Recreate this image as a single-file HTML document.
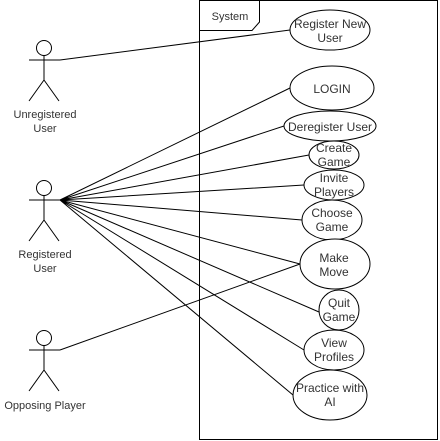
<!DOCTYPE html>
<html><head><meta charset="utf-8"><style>
html,body{margin:0;padding:0;background:#fff;}
svg{display:block;}
text{font-family:"Liberation Sans",sans-serif;font-size:11px;fill:#333;text-anchor:middle;}
.u{font-size:12px;}
</style></head><body>
<svg width="440" height="441" viewBox="0 0 440 441" xmlns="http://www.w3.org/2000/svg">
<g fill="none" stroke="#000" stroke-width="1">
<rect x="199.5" y="0.5" width="238" height="439"/>
<path d="M199.5 30.5 H252 L259.5 22 V0.5"/>
<g>
<circle cx="44" cy="48" r="7.5"/>
<path d="M44 55.5 V80 M29 60 H60 M44 80 L29 101 M44 80 L59 101"/>
</g>
<g transform="translate(0,140)">
<circle cx="44" cy="48" r="7.5"/>
<path d="M44 55.5 V80 M29 60 H60 M44 80 L29 101 M44 80 L59 101"/>
</g>
<g transform="translate(0,290)">
<circle cx="44" cy="48" r="7.5"/>
<path d="M44 55.5 V80 M29 60 H60 M44 80 L29 101 M44 80 L59 101"/>
</g>
<path d="M60 60 L290 30"/>
<path d="M60 200 L290 88 M60 200 L284 126 M60 200 L309 155 M60 200 L304 185 M60 200 L302 220 M60 200 L300 264 M60 200 L319 312 M60 200 L304 350 M60 200 L293 395"/>
<path d="M60 350 L300 264"/>
<g fill="#fff">
<ellipse cx="330" cy="30" rx="40" ry="20"/>
<ellipse cx="332" cy="88" rx="42" ry="22"/>
<ellipse cx="330" cy="126" rx="46" ry="15"/>
<ellipse cx="334" cy="155" rx="25" ry="14"/>
<ellipse cx="334" cy="185" rx="30" ry="15"/>
<ellipse cx="332" cy="220" rx="30" ry="20"/>
<ellipse cx="335" cy="264" rx="35" ry="25"/>
<ellipse cx="339" cy="310" rx="20" ry="20"/>
<ellipse cx="334" cy="350" rx="30" ry="20"/>
<ellipse cx="330" cy="395" rx="37" ry="25"/>
</g>
</g>
<text x="230" y="20">System</text>
<g class="u">
<text class="u" x="330" y="28">Register New</text><text class="u" x="330" y="42">User</text>
<text class="u" x="332" y="93">LOGIN</text>
<text class="u" x="330" y="131">Deregister User</text>
<text class="u" x="334" y="152">Create</text><text class="u" x="334" y="166">Game</text>
<text class="u" x="334" y="182">Invite</text><text class="u" x="334" y="196">Players</text>
<text class="u" x="332" y="217">Choose</text><text class="u" x="332" y="231">Game</text>
<text class="u" x="334" y="262">Make</text><text class="u" x="334" y="276">Move</text>
<text class="u" x="339" y="307">Quit</text><text class="u" x="339" y="321">Game</text>
<text class="u" x="334" y="347">View</text><text class="u" x="334" y="361">Profiles</text>
<text class="u" x="330" y="392">Practice with</text><text class="u" x="330" y="406">AI</text>
</g>
<text x="45" y="118">Unregistered</text><text x="45" y="132">User</text>
<text x="45" y="258">Registered</text><text x="45" y="272">User</text>
<text x="45" y="409">Opposing Player</text>
</svg>
</body></html>
